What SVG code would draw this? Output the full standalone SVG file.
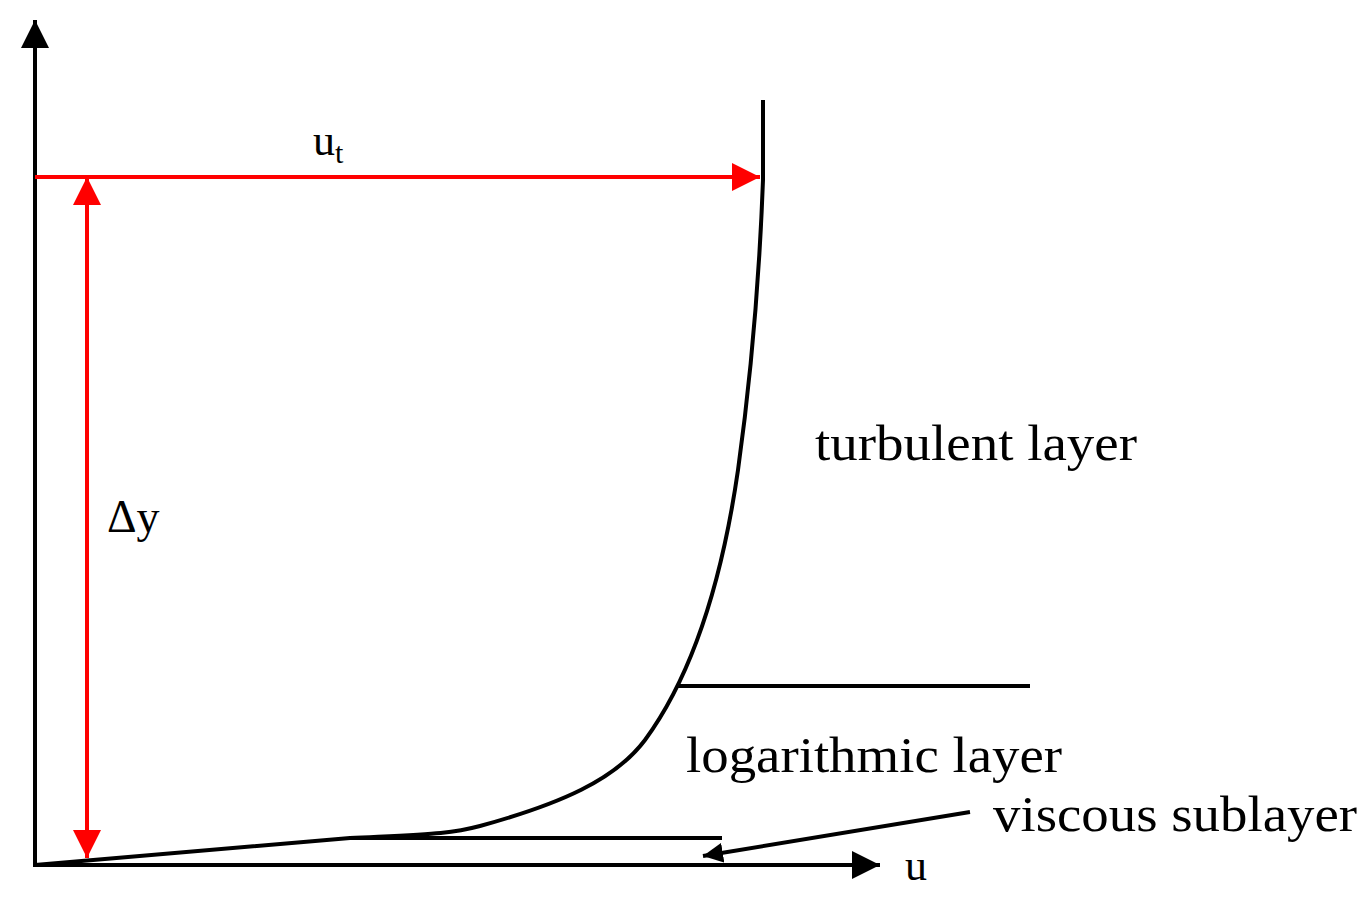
<svg xmlns="http://www.w3.org/2000/svg" width="1369" height="903" viewBox="0 0 1369 903">
<style>
.ax{stroke:#000;stroke-width:4;fill:none}
.rd{stroke:#ff0000;stroke-width:4;fill:none}
.ln{stroke:#000;stroke-width:4;fill:none}
.tx{font-family:"Liberation Serif","Times New Roman",serif;fill:#000}
</style>
<defs>
<marker id="ah" viewBox="0 0 10 10" refX="10" refY="5" markerWidth="7" markerHeight="7" orient="auto" markerUnits="strokeWidth"><path d="M0,0 L10,5 L0,10 z" fill="#000"/></marker>
<marker id="ar" viewBox="0 0 10 10" refX="10" refY="5" markerWidth="7" markerHeight="7" orient="auto-start-reverse" markerUnits="strokeWidth"><path d="M0,0 L10,5 L0,10 z" fill="#ff0000"/></marker>
<marker id="as" viewBox="0 0 10 10" refX="10" refY="5" markerWidth="5" markerHeight="5" orient="auto" markerUnits="strokeWidth"><path d="M0,0 L10,5 L0,10 z" fill="#000"/></marker>
</defs>
<g id="connectors">
<line class="ax" x1="35" y1="867" x2="35" y2="20" marker-end="url(#ah)"/>
<line class="ax" x1="33" y1="865" x2="880" y2="865" marker-end="url(#ah)"/>
<line class="rd" x1="35" y1="177" x2="760" y2="177" marker-end="url(#ar)"/>
<line class="rd" x1="87" y1="177" x2="87" y2="858" marker-start="url(#ar)" marker-end="url(#ar)"/>
<path class="ln" d="M35,865 L350,838 C430,834 450,834 480,826 C560,804 615,780 645,740 C700,665 725,560 738,470 C752,370 760,260 763,180 L763,100" stroke-width="3"/>
<line class="ln" x1="678" y1="686" x2="1030" y2="686"/>
<line class="ln" x1="350" y1="838" x2="722" y2="838"/>
<line class="ln" x1="970" y1="812" x2="703" y2="856" stroke-width="3" marker-end="url(#as)"/>
</g>
<g id="label-ut"><text class="tx" x="313" y="155" font-size="44">u<tspan font-size="30" dy="8">t</tspan></text></g>
<g id="label-dy"><text class="tx" x="107" y="532" font-size="46">Δy</text></g>
<g id="label-u"><text class="tx" x="905" y="880" font-size="44">u</text></g>
<g id="label-turbulent"><text class="tx" x="815" y="460" font-size="50" textLength="322" lengthAdjust="spacingAndGlyphs">turbulent layer</text></g>
<g id="label-log"><text class="tx" x="686" y="772" font-size="50" textLength="376" lengthAdjust="spacingAndGlyphs">logarithmic layer</text></g>
<g id="label-viscous"><text class="tx" x="993" y="831" font-size="50" textLength="364" lengthAdjust="spacingAndGlyphs">viscous sublayer</text></g>
</svg>
